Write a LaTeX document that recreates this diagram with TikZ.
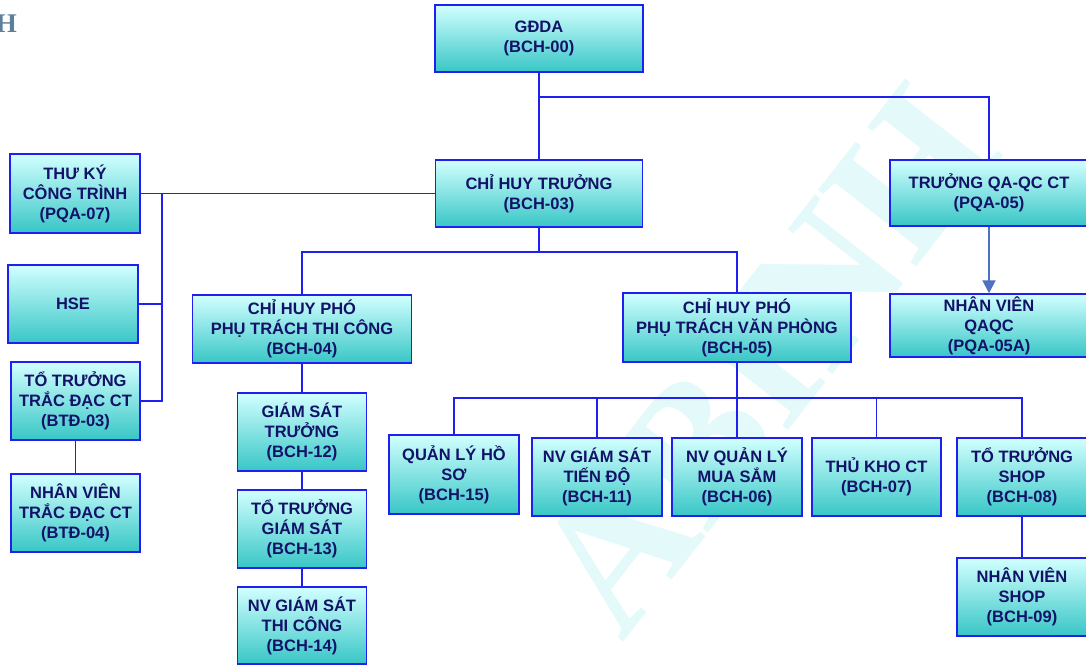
\documentclass[tikz,border=0pt]{standalone}
\usepackage{fontspec}
\setmainfont{Liberation Sans}
\newfontfamily\markfont{Liberation Serif}
\usetikzlibrary{arrows.meta}
\definecolor{boxline}{HTML}{1F1FF0}
\definecolor{boxtext}{HTML}{121268}
\definecolor{boxlight}{HTML}{D2FFFF}
\definecolor{boxdark}{HTML}{38C6C6}
\definecolor{qaarrow}{HTML}{4F72C0}
\definecolor{markcol}{HTML}{E3F9FA}
\definecolor{cornercol}{HTML}{5C809C}
\tikzstyle{post}=[draw=boxline, line width=1.5pt, shading angle=45, top color=boxlight, middle color=boxlight!75!boxdark, bottom color=boxdark, text=boxtext, align=center, inner sep=2pt, font=\fontsize{16.5}{20}\selectfont\bfseries]
\tikzstyle{wire}=[draw=boxline, line width=1.5pt]
\tikzstyle{report}=[draw=qaarrow, line width=2pt, -{Triangle[length=13pt,width=13pt]}]

\begin{document}
\begin{tikzpicture}[x=1pt, y=-1pt]
  \useasboundingbox (0,0) rectangle (1086,665);
  % watermark and corner letter
  \node[text=markcol, rotate=52, font=\markfont\bfseries\fontsize{190}{190}\selectfont] (mark) at (765,360) {ABINH};
  \node[text=cornercol, font=\markfont\bfseries\fontsize{27}{27}\selectfont] (corner) at (6.5,24) {H};

  % top of the chart
  \node[post, minimum width=208pt, minimum height=67pt] (gdda) at (539,38.5) {GĐDA\\(BCH-00)};
  \node[post, minimum width=207pt, minimum height=67pt] (cht) at (539,193.5) {CHỈ HUY TRƯỞNG\\(BCH-03)};
  \node[post, minimum width=198pt, minimum height=66pt] (qaqc) at (989,193) {TRƯỞNG QA-QC CT\\(PQA-05)};
  \node[post, minimum width=198pt, minimum height=63pt] (nvqaqc) at (989,325.5) {NHÂN VIÊN\\QAQC\\(PQA-05A)};

  % left column
  \node[post, minimum width=130pt, minimum height=79pt] (thuky) at (75,193.5) {THƯ KÝ\\CÔNG TRÌNH\\(PQA-07)};
  \node[post, minimum width=130pt, minimum height=78pt] (hse) at (73,304) {HSE};
  \node[post, minimum width=129pt, minimum height=78pt] (totd) at (75.5,401) {TỔ TRƯỞNG\\TRẮC ĐẠC CT\\(BTĐ-03)};
  \node[post, minimum width=129pt, minimum height=78pt] (nvtd) at (75.5,513) {NHÂN VIÊN\\TRẮC ĐẠC CT\\(BTĐ-04)};

  % deputies
  \node[post, minimum width=219pt, minimum height=68pt] (chptc) at (302,329) {CHỈ HUY PHÓ\\PHỤ TRÁCH THI CÔNG\\(BCH-04)};
  \node[post, minimum width=228pt, minimum height=69pt] (chpvp) at (737,327.5) {CHỈ HUY PHÓ\\PHỤ TRÁCH VĂN PHÒNG\\(BCH-05)};

  % site branch
  \node[post, minimum width=129pt, minimum height=78pt] (gst) at (302,432) {GIÁM SÁT\\TRƯỞNG\\(BCH-12)};
  \node[post, minimum width=129pt, minimum height=78pt] (ttgs) at (302,529) {TỔ TRƯỞNG\\GIÁM SÁT\\(BCH-13)};
  \node[post, minimum width=129pt, minimum height=77pt] (nvgstc) at (302,625.5) {NV GIÁM SÁT\\THI CÔNG\\(BCH-14)};

  % office branch
  \node[post, minimum width=130pt, minimum height=79pt] (hoso) at (454,474.5) {QUẢN LÝ HỒ\\SƠ\\(BCH-15)};
  \node[post, minimum width=130pt, minimum height=78pt] (tiendo) at (597,477) {NV GIÁM SÁT\\TIẾN ĐỘ\\(BCH-11)};
  \node[post, minimum width=130pt, minimum height=78pt] (muasam) at (737,477) {NV QUẢN LÝ\\MUA SẮM\\(BCH-06)};
  \node[post, minimum width=129pt, minimum height=78pt] (thukho) at (876.5,477) {THỦ KHO CT\\(BCH-07)};
  \node[post, minimum width=130pt, minimum height=78pt] (shop) at (1022,477) {TỔ TRƯỞNG\\SHOP\\(BCH-08)};
  \node[post, minimum width=130pt, minimum height=78pt] (nvshop) at (1022,597) {NHÂN VIÊN\\SHOP\\(BCH-09)};

  \coordinate (topfork) at (539,97);
  \coordinate (leftbus) at (162,193.5);
  \coordinate (midfork) at (539,252);
  \coordinate (vpfork) at (737,398);

  % connectors
  \draw[wire] (gdda) -- (cht);
  \draw[wire] (topfork) -| (qaqc);
  \draw[report] (qaqc) -- (nvqaqc);
  \draw[wire] (cht) -- (thuky);
  \draw[wire] (leftbus) |- (totd);
  \draw[wire] (hse.east) -- (hse.east -| leftbus);
  \draw[wire] (totd) -- (nvtd);
  \draw[wire] (cht) -- (midfork);
  \draw[wire] (chptc) |- (midfork) -| (chpvp);
  \draw[wire] (chptc) -- (gst);
  \draw[wire] (gst) -- (ttgs);
  \draw[wire] (ttgs) -- (nvgstc);
  \draw[wire] (chpvp) -- (vpfork);
  \foreach \kid in {hoso,tiendo,muasam,thukho,shop}
    \draw[wire] (vpfork) -| (\kid);
  \draw[wire] (shop) -- (nvshop);
\end{tikzpicture}
\end{document}
